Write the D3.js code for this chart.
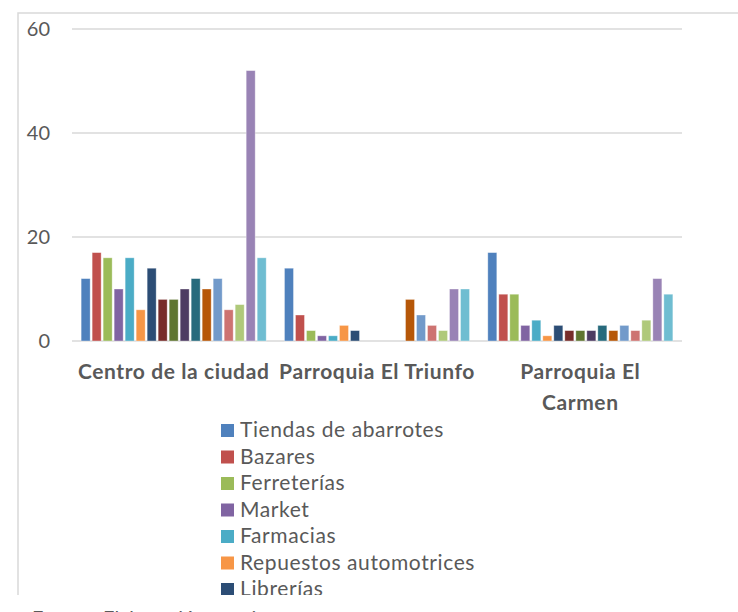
<!DOCTYPE html>
<html>
<head>
<meta charset="utf-8">
<script src="https://cdn.jsdelivr.net/npm/d3@7"></script>
<style>
  body { margin: 0; background: #fff; }
  text { font-family: Lato, "Liberation Sans", sans-serif; fill: #595959; }
</style>
</head>
<body>
<div id="chart"></div>
<script>
// categories and their label lines
const categories = ["Centro de la ciudad", "Parroquia El Triunfo", "Parroquia El Carmen"];
const categoryLines = [["Centro de la ciudad"], ["Parroquia El Triunfo"], ["Parroquia El", "Carmen"]];

// series (only the first seven names are visible in the legend)
const seriesNames = ["Tiendas de abarrotes", "Bazares", "Ferreterías", "Market", "Farmacias",
    "Repuestos automotrices", "Librerías", "Serie 8", "Serie 9", "Serie 10", "Serie 11",
    "Serie 12", "Serie 13", "Serie 14", "Serie 15", "Serie 16", "Serie 17"];
const seriesColors = ["#4f81bd", "#c0504d", "#9bbb59", "#8064a2", "#4bacc6", "#f79646",
    "#2c4d75", "#772c2a", "#5f7530", "#4d3b62", "#276a7c", "#b65708",
    "#729aca", "#cd7371", "#afc97a", "#9983b5", "#6fbdd1"];

// values per category, in series order
const centro = [12, 17, 16, 10, 16, 6, 14, 8, 8, 10, 12, 10, 12, 6, 7, 52, 16];
const triunfo = [14, 5, 2, 1, 1, 3, 2, 0, 0, 0, 0, 8, 5, 3, 2, 10, 10];
const carmen = [17, 9, 9, 3, 4, 1, 3, 2, 2, 2, 3, 2, 3, 2, 4, 12, 9];

const yTicks = [0, 20, 40, 60];
const legendShown = 7;

(function () {
    let width = 738, height = 612;
    let svg = d3.select("#chart")
        .append("svg")
        .attr("width", width)
        .attr("height", height);

    let values = [centro, triunfo, carmen];

    // chart frame (left and top edges visible)
    svg.append("path")
        .attr("d", "M18,595 L18,13 L738,13")
        .attr("fill", "none")
        .attr("stroke", "#d9d9d9")
        .attr("stroke-width", 1.5);

    let x0 = d3.scaleBand()
        .domain(categories)
        .range([72, 682]);
    let x1 = d3.scaleBand()
        .domain(seriesNames)
        .range([0, x0.bandwidth()])
        .paddingInner(0.18)
        .paddingOuter(0.83);
    let y = d3.scaleLinear()
        .domain([0, 60])
        .range([341, 29]);

    // gridlines
    svg.append("g")
        .selectAll("line")
        .data(yTicks)
        .enter()
        .append("line")
        .attr("x1", 72)
        .attr("x2", 682)
        .attr("y1", d => y(d))
        .attr("y2", d => y(d))
        .attr("stroke", "#d9d9d9")
        .attr("stroke-width", 1.3);

    // y tick labels
    svg.append("g")
        .selectAll("text")
        .data(yTicks)
        .enter()
        .append("text")
        .attr("x", 50)
        .attr("y", d => y(d))
        .attr("dy", "0.36em")
        .attr("text-anchor", "end")
        .attr("font-size", "20px")
        .text(d => d);

    // bars
    let groups = svg.append("g")
        .selectAll("g")
        .data(categories)
        .enter()
        .append("g")
        .attr("transform", d => `translate(${x0(d)},0)`);
    groups.selectAll("rect")
        .data((c, i) => seriesNames.map((s, j) => ({ s: s, v: values[i][j], c: seriesColors[j] })))
        .enter()
        .filter(d => d.v > 0)
        .append("rect")
        .attr("x", d => x1(d.s))
        .attr("y", d => y(d.v))
        .attr("width", x1.bandwidth())
        .attr("height", d => y(0) - y(d.v))
        .attr("fill", d => d.c)
        .attr("stroke", "#fff")
        .attr("stroke-opacity", 0.45)
        .attr("stroke-width", 0.8);

    // category labels
    let cl = svg.append("g")
        .selectAll("text")
        .data(categories)
        .enter()
        .append("text")
        .attr("x", d => x0(d) + x0.bandwidth() / 2)
        .attr("y", 379)
        .attr("text-anchor", "middle")
        .attr("font-size", "21px")
        .attr("letter-spacing", "0.6px")
        .attr("font-weight", "bold");
    cl.selectAll("tspan")
        .data((d, i) => categoryLines[i])
        .enter()
        .append("tspan")
        .attr("x", function () { return this.parentNode.getAttribute("x"); })
        .attr("dy", (d, i) => i === 0 ? 0 : 31)
        .text(d => d);

    // legend, clipped at the chart frame's bottom
    svg.append("clipPath")
        .attr("id", "legclip")
        .append("rect")
        .attr("x", 0).attr("y", 0)
        .attr("width", 738).attr("height", 595);
    let lg = svg.append("g")
        .attr("clip-path", "url(#legclip)")
        .selectAll("g")
        .data(seriesNames.slice(0, legendShown))
        .enter()
        .append("g");
    lg.append("rect")
        .attr("x", 221)
        .attr("y", (_, i) => 424 + i * 26.5)
        .attr("width", 13)
        .attr("height", 13)
        .attr("fill", (_, i) => seriesColors[i]);
    lg.append("text")
        .attr("x", 240)
        .attr("y", (_, i) => 437 + i * 26.5)
        .attr("font-size", "21px")
        .attr("letter-spacing", "0.6px")
        .text(d => d);

    // source line below the frame (mostly cut off, as in the original)
    svg.append("text")
        .attr("x", 32)
        .attr("y", 625)
        .attr("font-size", "20px")
        .text("Fuente: Elaboración propia");
})()
</script>
</body>
</html>
